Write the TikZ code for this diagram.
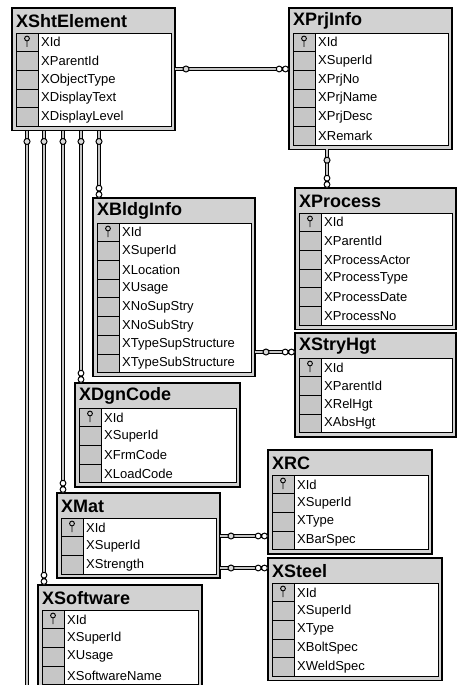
\documentclass[tikz,border=0pt]{standalone}
\usepackage{fontspec}
\setmainfont{Liberation Sans}
\usepackage{tikz}
\usetikzlibrary{calc}

% one table of the relationship view
\newcommand{\ertable}[5]{%
  \begin{scope}[shift={#2}]
    \def\nrows{0}%
    \foreach \fname [count=\k] in {#5} {\xdef\nrows{\k}}%
    \pgfmathsetmacro{\tblh}{29+18.7*\nrows}%
    \node[tbl, minimum width=#3, minimum height=\tblh, anchor=north west] (#1) at (0,0) {};
    \node[ttl] (#1-title) at (4,-13) {#4};
    \draw[fieldarea] (26,-25) rectangle (#3-3.5,-\tblh+4);
    \foreach \fname [count=\k] in {#5} {
      \draw[keycell] (4,{-25-18.7*(\k-1)}) rectangle (26,{-25-18.7*\k});
      \node[fld] (#1-f\k) at (29,{-25-18.7*\k+9.35}) {\fname};
    }
    \draw[keymark] (15,-30.5) circle (2.4) (15,-32.9) -- (15,-39);
    \coordinate (#1-in) at (6,0);
  \end{scope}}

% connector, "one" end at #1, "many" end at #2
\newcommand{\rel}[2]{%
  \draw[rel] (#1) -- (#2);
  \draw[onemark] ($(#1)!11pt!(#2)$) circle (3);
  \draw[manymark] ($(#2)!3.5pt!(#1)$) circle (2.9) ($(#2)!9.8pt!(#1)$) circle (2.9);}

\begin{document}
\begin{tikzpicture}[x=1pt, y=1pt,
  tbl/.style={rectangle, draw=black, fill=gray!35, line width=1.4pt, inner sep=0, outer sep=0},
  ttl/.style={anchor=west, inner sep=0, font=\fontsize{18}{20}\selectfont\bfseries},
  fld/.style={anchor=west, inner sep=0, font=\fontsize{13}{15}\selectfont},
  fieldarea/.style={draw=black, fill=white, line width=0.9pt},
  keycell/.style={draw=black, fill=gray!45, line width=0.7pt},
  keymark/.style={draw=black, line width=0.9pt},
  rel/.style={draw=black, line width=0.8pt, double=gray!45, double distance=1.6pt},
  onemark/.style={draw=black, fill=gray!30, line width=1pt},
  manymark/.style={draw=black, fill=white, line width=1pt}
]
\useasboundingbox (0,0) rectangle (458,-685);

\ertable{sht}{(12,-8)}{163}{XShtElement}{XId, XParentId, XObjectType, XDisplayText, XDisplayLevel}
\ertable{prj}{(289,-8)}{163}{XPrjInfo}{XId, XSuperId, XPrjNo, XPrjName, XPrjDesc, XRemark}
\ertable{proc}{(295,-188)}{161}{XProcess}{XId, XParentId, XProcessActor, XProcessType, XProcessDate, XProcessNo}
\ertable{stry}{(295,-333)}{161}{XStryHgt}{XId, XParentId, XRelHgt, XAbsHgt}
\ertable{bldg}{(93,-198)}{162}{XBldgInfo}{XId, XSuperId, XLocation, XUsage, XNoSupStry, XNoSubStry, XTypeSupStructure, XTypeSubStructure}
\ertable{dgn}{(75,-383)}{165}{XDgnCode}{XId, XSuperId, XFrmCode, XLoadCode}
\ertable{mat}{(57,-493)}{163}{XMat}{XId, XSuperId, XStrength}
\ertable{rc}{(268,-450)}{164}{XRC}{XId, XSuperId, XType, XBarSpec}
\ertable{steel}{(268,-558)}{174}{XSteel}{XId, XSuperId, XType, XBoltSpec, XWeldSpec}
\ertable{soft}{(38,-585)}{164}{XSoftware}{XId, XSuperId, XUsage, XSoftwareName}

% horizontal links
\coordinate (c1a) at ([yshift=-61pt]sht.north east);
\coordinate (c1b) at (prj.west |- c1a);
\rel{c1a}{c1b}
\coordinate (c2a) at ([xshift=38pt]prj.south west);
\coordinate (c2b) at (c2a |- proc.north);
\rel{c2a}{c2b}
\coordinate (c3a) at ([yshift=-154pt]bldg.north east);
\coordinate (c3b) at (stry.west |- c3a);
\rel{c3a}{c3b}
\coordinate (c4a) at ([yshift=-43pt]mat.north east);
\coordinate (c4b) at (rc.west |- c4a);
\rel{c4a}{c4b}
\coordinate (c5a) at ([yshift=-75pt]mat.north east);
\coordinate (c5b) at (steel.west |- c5a);
\rel{c5a}{c5b}

% links down from XShtElement
\foreach \t in {bldg, dgn, mat, soft} {
  \coordinate (\t-up) at (\t-in |- sht.south);
  \rel{\t-up}{\t-in}
}
\coordinate (ext-in) at (27,-685);
\coordinate (ext-up) at (ext-in |- sht.south);
\draw[rel] (ext-up) -- (ext-in);
\draw[onemark] ($(ext-up)!11pt!(ext-in)$) circle (3);
\end{tikzpicture}
\end{document}
